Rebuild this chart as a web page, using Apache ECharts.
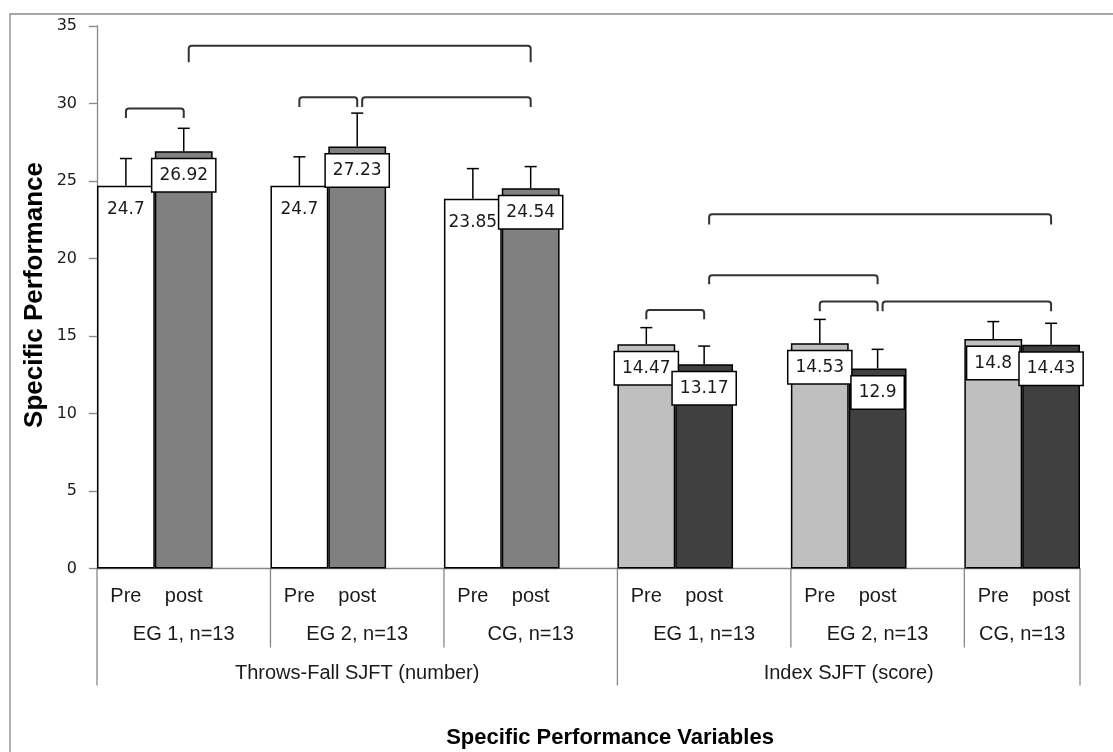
<!DOCTYPE html>
<html>
<head>
<meta charset="utf-8">
<script src="https://cdn.jsdelivr.net/npm/echarts@6/dist/echarts.min.js"></script>
<style>
  html, body { margin: 0; padding: 0; background: #fff; }
  #chart { width: 1113px; height: 752px; }
</style>
</head>
<body>
<div id="chart"></div>
<script>
const VARIABLES = ['Throws-Fall SJFT (number)', 'Index SJFT (score)'];
const GROUPS = ['EG 1, n=13', 'EG 2, n=13', 'CG, n=13', 'EG 1, n=13', 'EG 2, n=13', 'CG, n=13'];
const GROUP_VARIABLE = [0, 0, 0, 1, 1, 1];
const TIMES = ['Pre', 'post'];
const PRE_MEAN = [24.7, 24.7, 23.85, 14.47, 14.53, 14.8];
const POST_MEAN = [26.92, 27.23, 24.54, 13.17, 12.9, 14.43];
const PRE_SD = [1.75, 1.86, 1.95, 1.07, 1.54, 1.13];
const POST_SD = [1.48, 2.15, 1.39, 1.18, 1.24, 1.39];
// significance brackets: [from group, from time, to group, to time, top value, end value]
const BRACKETS = [
  [0, 0, 0, 1, 29.68, 29.06],
  [0, 1, 2, 1, 33.73, 32.66],
  [1, 0, 1, 1, 30.4, 29.77],
  [1, 1, 2, 1, 30.4, 29.77],
  [3, 1, 5, 1, 22.86, 22.2],
  [3, 1, 4, 1, 18.92, 18.34],
  [3, 0, 3, 1, 16.68, 16.08],
  [4, 0, 4, 1, 17.22, 16.6],
  [4, 1, 5, 1, 17.22, 16.6]
];
const Y_MIN = 0, Y_MAX = 35, Y_STEP = 5;

const FILL = [['#ffffff', '#808080'], ['#bfbfbf', '#404040']];
const TEXT = '#1a1a1a';
const SANS = 'Liberation Sans';

// slots: Pre, post, gap for each group (no gap after the last one)
const categories = [];
GROUPS.forEach((g, gi) => {
  TIMES.forEach(t => categories.push(t));
  if (gi < GROUPS.length - 1) categories.push('');
});
const slotOf = (g, t) => g * 3 + t;
const groupEnd = (g) => g < GROUPS.length - 1 ? slotOf(g, 0) + 3 : slotOf(g, 0) + 2;

const barData = categories.map(() => '-');
const errData = [];
GROUPS.forEach((g, gi) => {
  const means = [PRE_MEAN[gi], POST_MEAN[gi]];
  const sds = [PRE_SD[gi], POST_SD[gi]];
  means.forEach((v, t) => {
    const plain = GROUP_VARIABLE[gi] === 0 && t === 0;
    barData[slotOf(gi, t)] = {
      value: v,
      itemStyle: { color: FILL[GROUP_VARIABLE[gi]][t] },
      label: plain ? { backgroundColor: 'transparent', borderWidth: 0 } : {}
    };
    errData.push([slotOf(gi, t), v, sds[t]]);
  });
});

const bracketEnds = BRACKETS.map(b => slotOf(b[2], b[3]));
const bracketData = BRACKETS.map(b => [slotOf(b[0], b[1]), slotOf(b[2], b[3]), b[4], b[5]]);

const chart = echarts.init(document.getElementById('chart'));

chart.setOption({
  animation: false,
  backgroundColor: '#fff',
  grid: { left: 97, right: 33, top: 26, bottom: 183.5 },
  xAxis: {
    type: 'category',
    data: categories,
    axisLine: { lineStyle: { color: '#888', width: 1.3 } },
    axisTick: { show: false },
    axisLabel: { interval: 0, margin: 18, fontFamily: SANS, fontSize: 20, color: TEXT }
  },
  yAxis: {
    type: 'value',
    min: Y_MIN, max: Y_MAX, interval: Y_STEP,
    splitLine: { show: false },
    axisLine: { show: true, lineStyle: { color: '#888', width: 1.3 } },
    axisTick: { show: true, length: 8, lineStyle: { color: '#888', width: 1.3 } },
    axisLabel: { margin: 20, fontFamily: 'DejaVu Sans', fontSize: 16, color: TEXT }
  },
  graphic: [
    {
      type: 'rect', shape: { x: 10, y: 14, width: 1130, height: 800 },
      style: { fill: 'none', stroke: '#8a8a8a', lineWidth: 1.3 }, z: -10
    },
    {
      type: 'text', x: 35, y: 295, rotation: Math.PI / 2,
      style: { text: 'Specific Performance', font: 'bold 26px "Liberation Sans"', fill: '#000', textAlign: 'center', textVerticalAlign: 'middle' }
    },
    {
      type: 'text', x: 610, y: 738,
      style: { text: 'Specific Performance Variables', font: 'bold 22px "Liberation Sans"', fill: '#000', textAlign: 'center', textVerticalAlign: 'middle' }
    }
  ],
  series: [
    {
      type: 'bar',
      data: barData,
      barWidth: '100%',
      barCategoryGap: '0%',
      itemStyle: { borderColor: '#000', borderWidth: 1.5 },
      label: {
        show: true,
        position: 'insideTop',
        distance: 8,
        fontFamily: 'DejaVu Sans',
        fontSize: 17,
        lineHeight: 20,
        color: TEXT,
        backgroundColor: '#fff',
        borderColor: '#000',
        borderWidth: 1.5,
        padding: [6, 7]
      },
      z: 2
    },
    {
      type: 'custom',
      data: errData,
      encode: { x: 0, y: 1 },
      z: 3,
      renderItem(params, api) {
        const x = api.value(0), m = api.value(1), sd = api.value(2);
        const base = api.coord([x, m]);
        const top = api.coord([x, m + sd]);
        const st = { stroke: '#000', lineWidth: 1.5 };
        return {
          type: 'group',
          children: [
            { type: 'line', shape: { x1: base[0], y1: base[1], x2: top[0], y2: top[1] }, style: st },
            { type: 'line', shape: { x1: top[0] - 6, y1: top[1], x2: top[0] + 6, y2: top[1] }, style: st }
          ]
        };
      }
    },
    {
      type: 'custom',
      data: bracketData,
      encode: { x: [0, 1], y: [2, 3] },
      clip: false,
      z: 3,
      renderItem(params, api) {
        const from = api.value(0), to = api.value(1);
        const p1 = api.coord([from, api.value(2)]);
        const p2 = api.coord([to, api.value(2)]);
        const yEnd = api.coord([from, api.value(3)])[1];
        const nudge = bracketEnds.includes(from) ? 5 : 0;
        const x1 = p1[0] + nudge, x2 = p2[0], y = p1[1], r = 3;
        return {
          type: 'path',
          shape: {
            pathData: `M${x1},${yEnd} L${x1},${y + r} Q${x1},${y} ${x1 + r},${y} L${x2 - r},${y} Q${x2},${y} ${x2},${y + r} L${x2},${yEnd}`
          },
          style: { fill: 'none', stroke: '#333', lineWidth: 2 }
        };
      }
    },
    {
      // group labels and separators under the axis
      type: 'custom',
      data: GROUPS.map((g, gi) => [slotOf(gi, 0), groupEnd(gi)]),
      encode: { x: [0, 1] },
      clip: false,
      silent: true,
      renderItem(params, api) {
        const gi = params.dataIndex;
        const w = api.size([1, 0])[0];
        const x0 = api.coord([api.value(0), 0])[0] - w / 2;
        const x1 = api.coord([api.value(1), 0])[0] - w / 2;
        const y0 = api.coord([0, 0])[1];
        const children = [{
          type: 'text',
          x: (x0 + x1) / 2, y: y0 + 66,
          style: { text: GROUPS[gi], font: '20px "Liberation Sans"', fill: TEXT, align: 'center', verticalAlign: 'middle' }
        }];
        const firstOfVar = gi === 0 || GROUP_VARIABLE[gi] !== GROUP_VARIABLE[gi - 1];
        if (!firstOfVar) {
          children.push({ type: 'line', shape: { x1: x0, y1: y0, x2: x0, y2: y0 + 79 }, style: { stroke: '#888', lineWidth: 1.3 } });
        }
        return { type: 'group', children };
      }
    },
    {
      type: 'custom',
      data: VARIABLES.map((v, vi) => {
        const gs = GROUP_VARIABLE.map((x, i) => x === vi ? i : -1).filter(i => i >= 0);
        return [slotOf(gs[0], 0), groupEnd(gs[gs.length - 1])];
      }),
      encode: { x: [0, 1] },
      clip: false,
      silent: true,
      renderItem(params, api) {
        const vi = params.dataIndex;
        const w = api.size([1, 0])[0];
        const x0 = api.coord([api.value(0), 0])[0] - w / 2;
        const x1 = api.coord([api.value(1), 0])[0] - w / 2;
        const y0 = api.coord([0, 0])[1];
        const st = { stroke: '#888', lineWidth: 1.3 };
        const children = [
          {
            type: 'text',
            x: (x0 + x1) / 2, y: y0 + 105,
            style: { text: VARIABLES[vi], font: '20px "Liberation Sans"', fill: TEXT, align: 'center', verticalAlign: 'middle' }
          },
          { type: 'line', shape: { x1: x0, y1: y0, x2: x0, y2: y0 + 117 }, style: st }
        ];
        if (vi === VARIABLES.length - 1) {
          children.push({ type: 'line', shape: { x1: x1, y1: y0, x2: x1, y2: y0 + 117 }, style: st });
        }
        return { type: 'group', children };
      }
    }
  ]
});
</script>
</body>
</html>
